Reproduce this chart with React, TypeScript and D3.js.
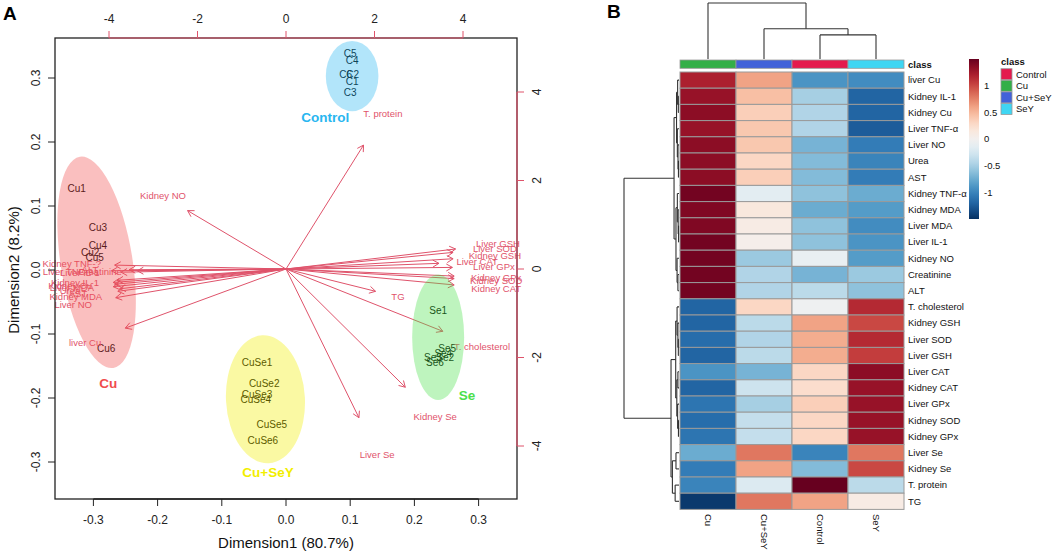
import * as d3 from 'd3';

// ---------- Panel A: biplot data ----------
const obsNames = [
  'C1', 'C2', 'C3', 'C4', 'C5', 'C6',
  'Cu1', 'Cu2', 'Cu3', 'Cu4', 'Cu5', 'Cu6',
  'CuSe1', 'CuSe2', 'CuSe3', 'CuSe4', 'CuSe5', 'CuSe6',
  'Se1', 'Se2', 'Se3', 'Se4', 'Se5', 'Se6',
];
const obsDim1 = [
  0.103, 0.104, 0.1, 0.103, 0.1, 0.093,
  -0.326, -0.305, -0.293, -0.293, -0.298, -0.28,
  -0.045, -0.034, -0.045, -0.047, -0.022, -0.036,
  0.237, 0.248, 0.229, 0.245, 0.251, 0.232,
];
const obsDim2 = [
  0.295, 0.306, 0.278, 0.327, 0.338, 0.306,
  0.128, 0.028, 0.067, 0.039, 0.02, -0.122,
  -0.144, -0.177, -0.194, -0.203, -0.241, -0.267,
  -0.064, -0.136, -0.136, -0.13, -0.122, -0.145,
];

// variable label positions (variable units, top/right axes)
const varNames = [
  'Kidney TNF-?', 'Liver TNF-?', 'Creatinine', 'Liver IL-1', 'ALT', 'Kidney IL-1',
  'Kidney Cu', 'Urea', 'Liver MDA', 'AST', 'Kidney MDA', 'Liver NO', 'liver Cu', 'Kidney NO',
  'Liver GSH', 'Liver SOD', 'Kidney GSH', 'Liver CAT', 'Liver GPx', 'Kidney GPx',
  'Kidney SOD', 'Kidney CAT', 'T. cholesterol', 'TG', 'Kidney Se', 'Liver Se', 'T. protein',
];
const varX = [
  -4.84, -4.93, -4.2, -4.66, -4.43, -4.77, -4.88, -4.88, -4.84, -4.7, -4.75, -4.81, -4.54, -2.78,
  4.79, 4.72, 4.72, 4.32, 4.7, 4.75, 4.75, 4.75, 4.43, 2.53, 3.37, 2.06, 2.19,
];
const varY = [
  0.11, -0.05, -0.05, -0.09, -0.02, -0.32, -0.38, -0.5, -0.43, -0.56, -0.63, -0.81, -1.67, 1.65,
  0.565, 0.47, 0.29, 0.16, 0.045, -0.2, -0.27, -0.45, -1.76, -0.63, -3.34, -4.2, 3.5,
];

const groupNames = ['Control', 'Cu', 'Cu+SeY', 'Se'];
const groupColors = ['#29B6F0', '#F04D4D', '#F2EE00', '#4CE04C'];
const groupCx = [0.103, -0.295, -0.032, 0.237];
const groupCy = [0.303, 0.012, -0.202, -0.105];
const groupRx = [0.041, 0.056, 0.0615, 0.0405];
const groupRy = [0.055, 0.167, 0.1, 0.098];
const groupAngle = [0, -9, -3, 0];
const groupLabelX = [0.061, -0.277, -0.028, 0.282];
const groupLabelY = [0.239, -0.177, -0.316, -0.195];

const obsTicks = [-0.3, -0.2, -0.1, 0, 0.1, 0.2, 0.3];
const varTicks = [-4, -2, 0, 2, 4];

// ---------- Panel B: heatmap data ----------
const rowLabels = [
  'liver Cu', 'Kidney IL-1', 'Kidney Cu', 'Liver TNF-α', 'Liver NO', 'Urea', 'AST',
  'Kidney TNF-α', 'Kidney MDA', 'Liver MDA', 'Liver IL-1', 'Kidney NO', 'Creatinine', 'ALT',
  'T. cholesterol', 'Kidney GSH', 'Liver SOD', 'Liver GSH', 'Liver CAT', 'Kidney CAT',
  'Liver GPx', 'Kidney SOD', 'Kidney GPx', 'Liver Se', 'Kidney Se', 'T. protein', 'TG',
];
const colLabels = ['Cu', 'Cu+SeY', 'Control', 'SeY'];
// values per row: Cu, Cu+SeY, Control, SeY
const heatValues = [
  [1.2, 0.6, -0.9, -0.95],
  [1.3, 0.45, -0.5, -1.2],
  [1.35, 0.35, -0.45, -1.2],
  [1.3, 0.4, -0.45, -1.25],
  [1.35, 0.4, -0.7, -1.05],
  [1.35, 0.3, -0.65, -1.0],
  [1.35, 0.35, -0.65, -1.05],
  [1.45, -0.15, -0.6, -0.75],
  [1.4, 0.15, -0.75, -0.85],
  [1.4, 0.1, -0.6, -0.95],
  [1.45, 0.05, -0.6, -0.9],
  [1.45, -0.55, -0.1, -0.85],
  [1.45, -0.45, -0.7, -0.55],
  [1.45, -0.45, -0.4, -0.6],
  [-1.2, 0.3, -0.05, 1.15],
  [-1.2, -0.4, 0.6, 1.0],
  [-1.15, -0.45, 0.55, 1.15],
  [-1.2, -0.4, 0.55, 1.05],
  [-0.9, -0.7, 0.3, 1.35],
  [-1.2, -0.3, 0.25, 1.3],
  [-1.1, -0.5, 0.35, 1.3],
  [-1.15, -0.35, 0.3, 1.3],
  [-1.1, -0.35, 0.3, 1.3],
  [-0.75, 0.8, -1.0, 0.8],
  [-1.05, 0.6, -0.65, 1.0],
  [-1.0, -0.2, 1.5, -0.4],
  [-1.45, 0.8, 0.6, 0.1],
];
const classNames = ['Control', 'Cu', 'Cu+SeY', 'SeY'];
const classColors = ['#E41A4D', '#33AF48', '#4262D9', '#3FD6F3'];
const legendTicks = [-1, -0.5, 0, 0.5, 1];

type Tree = number | [number, Tree, Tree];
const rowTree: Tree = [10,
  [0.9,
    [0.45, [0.25, 0, [0.12, 1, 2]], [0.3, 3, [0.18, 4, [0.1, 5, 6]]]],
    [0.55, [0.3, 7, [0.15, 8, [0.08, 9, 10]]], [0.35, 11, [0.2, 12, 13]]]],
  [1.45,
    [0.6, [0.35, 14, [0.2, 15, [0.12, 16, 17]]], [0.4, [0.2, 18, 19], [0.25, 20, [0.1, 21, 22]]]],
    [1.2, [0.55, 23, 24], [0.7, 25, 26]]]];
const colTree: Tree = [10, 0, [5.4, 1, [4.3, 2, 3]]];

const FONT = 'Liberation Sans, Arial, Helvetica, sans-serif';
const VARCOL = '#DF536B';

// walk a dendrogram, returning line segments in (pos, height) space
function walk(t: Tree, leafPos: (i: number) => number, segs: number[][]): { p: number; h: number } {
  if (typeof t === 'number') return { p: leafPos(t), h: 0 };
  const [h, a, b] = t;
  const l = walk(a, leafPos, segs);
  const r = walk(b, leafPos, segs);
  segs.push([l.p, l.h, l.p, h]);
  segs.push([r.p, r.h, r.p, h]);
  segs.push([l.p, h, r.p, h]);
  return { p: (l.p + r.p) / 2, h };
}

function arrowHead(x0: number, y0: number, x1: number, y1: number) {
  const ang = Math.atan2(y1 - y0, x1 - x0);
  const len = 7;
  const a1 = ang + Math.PI - Math.PI / 6;
  const a2 = ang + Math.PI + Math.PI / 6;
  return `M${x1 + len * Math.cos(a1)},${y1 + len * Math.sin(a1)}L${x1},${y1}L${x1 + len * Math.cos(a2)},${y1 + len * Math.sin(a2)}`;
}

function Biplot() {
  const box = { left: 55, right: 517, top: 38, bottom: 499 };
  const xObs = d3.scaleLinear().domain([-0.3, 0.3]).range([93.4, 478.6]);
  const yObs = d3.scaleLinear().domain([-0.3, 0.3]).range([462, 78]);
  const xVar = d3.scaleLinear().domain([-4, 4]).range([109, 463]);
  const yVar = d3.scaleLinear().domain([-4, 4]).range([446, 92]);
  const ox = xVar(0);
  const oy = yVar(0);

  return (
    <g fontFamily={FONT}>
      {/* observation labels */}
      {obsNames.map((n, i) => (
        <text key={n} x={xObs(obsDim1[i])} y={yObs(obsDim2[i])} dy="0.35em" textAnchor="middle" fontSize={10} fill="#000">
          {n}
        </text>
      ))}
      {/* variable arrows */}
      {varNames.map((n, i) => {
        const tx = xVar(varX[i] * 0.8);
        const ty = yVar(varY[i] * 0.8);
        return (
          <g key={n}>
            <line x1={ox} y1={oy} x2={tx} y2={ty} stroke={VARCOL} strokeWidth={1} />
            <path d={arrowHead(ox, oy, tx, ty)} fill="none" stroke={VARCOL} strokeWidth={1} />
            <text x={xVar(varX[i])} y={yVar(varY[i])} dy="0.35em" textAnchor="middle" fontSize={9.5} fill={VARCOL}>
              {n}
            </text>
          </g>
        );
      })}
      {/* group ellipses */}
      {groupNames.map((g, i) => {
        const cx = xObs(groupCx[i]);
        const cy = yObs(groupCy[i]);
        const rx = xObs(groupRx[i]) - xObs(0);
        const ry = yObs(0) - yObs(groupRy[i]);
        return (
          <ellipse key={g} cx={cx} cy={cy} rx={rx} ry={ry} fill={groupColors[i]} fillOpacity={0.36}
            transform={`rotate(${groupAngle[i]},${cx},${cy})`} />
        );
      })}
      {groupNames.map((g, i) => (
        <text key={g} x={xObs(groupLabelX[i])} y={yObs(groupLabelY[i])} dy="0.35em" textAnchor="middle"
          fontSize={13.5} fontWeight="bold" fill={groupColors[i]}>
          {g}
        </text>
      ))}
      {/* box */}
      <rect x={box.left} y={box.top} width={box.right - box.left} height={box.bottom - box.top} fill="none" stroke="#222" strokeWidth={1.3} />
      {/* bottom axis */}
      <line x1={xObs(-0.3)} x2={xObs(0.3)} y1={box.bottom} y2={box.bottom} stroke="#222" strokeWidth={1.3} />
      {obsTicks.map((t) => (
        <g key={`b${t}`}>
          <line x1={xObs(t)} x2={xObs(t)} y1={box.bottom} y2={box.bottom + 7} stroke="#222" />
          <text x={xObs(t)} y={box.bottom + 21} dy="0.35em" textAnchor="middle" fontSize={12} fill="#222">
            {t.toFixed(1)}
          </text>
        </g>
      ))}
      <text x={xObs(0)} y={543} dy="0.35em" textAnchor="middle" fontSize={15} fill="#111">Dimension1 (80.7%)</text>
      {/* left axis */}
      {obsTicks.map((t) => (
        <g key={`l${t}`}>
          <line x1={box.left} x2={box.left - 7} y1={yObs(t)} y2={yObs(t)} stroke="#222" />
          <text transform={`translate(${box.left - 19},${yObs(t)}) rotate(-90)`} dy="0.35em" textAnchor="middle" fontSize={12} fill="#222">
            {t.toFixed(1)}
          </text>
        </g>
      ))}
      <text transform={`translate(14,${yObs(0)}) rotate(-90)`} dy="0.35em" textAnchor="middle" fontSize={15} fill="#111">
        Dimension2 (8.2%)
      </text>
      {/* top axis (variables) */}
      <line x1={xVar(-4)} x2={xVar(4)} y1={box.top} y2={box.top} stroke={VARCOL} strokeWidth={1.2} />
      {varTicks.map((t) => (
        <g key={`t${t}`}>
          <line x1={xVar(t)} x2={xVar(t)} y1={box.top} y2={box.top - 7} stroke={VARCOL} />
          <text x={xVar(t)} y={19} dy="0.35em" textAnchor="middle" fontSize={12} fill="#222">{t}</text>
        </g>
      ))}
      {/* right axis (variables) */}
      <line x1={box.right} x2={box.right} y1={yVar(-4)} y2={yVar(4)} stroke={VARCOL} strokeWidth={1.2} />
      {varTicks.map((t) => (
        <g key={`r${t}`}>
          <line x1={box.right} x2={box.right + 7} y1={yVar(t)} y2={yVar(t)} stroke={VARCOL} />
          <text transform={`translate(${box.right + 20},${yVar(t)}) rotate(-90)`} dy="0.35em" textAnchor="middle" fontSize={12} fill="#222">
            {t}
          </text>
        </g>
      ))}
      <text x={3} y={20} fontSize={19} fontWeight="bold" fill="#000">A</text>
    </g>
  );
}

function Heatmap() {
  const xCell = d3.scaleBand().domain(colLabels).range([680, 904]);
  const yCell = d3.scaleBand().domain(rowLabels).range([72, 509.4]);
  const color = (v: number) => d3.interpolateRdBu((1.5 - v) / 3);
  const rowH = d3.scaleLinear().domain([0, 10]).range([679, 624]);
  const colH = d3.scaleLinear().domain([0, 10]).range([59, 3]);
  const legY = d3.scaleLinear().domain([-1.5, 1.5]).range([219, 59]);

  const rowSegs: number[][] = [];
  walk(rowTree, (i) => (yCell(rowLabels[i]) as number) + yCell.bandwidth() / 2, rowSegs);
  const colSegs: number[][] = [];
  walk(colTree, (i) => (xCell(colLabels[i]) as number) + xCell.bandwidth() / 2, colSegs);

  const gradStops = d3.range(0, 1.0001, 0.05);

  return (
    <g fontFamily={FONT}>
      <defs>
        <linearGradient id="legGrad" x1="0" y1="0" x2="0" y2="1">
          {gradStops.map((s) => (
            <stop key={s} offset={s} stopColor={d3.interpolateRdBu(s)} />
          ))}
        </linearGradient>
      </defs>
      {/* dendrograms */}
      {rowSegs.map((s, i) => (
        <line key={`rs${i}`} x1={rowH(s[1])} y1={s[0]} x2={rowH(s[3])} y2={s[2]} stroke="#333" strokeWidth={1.1} />
      ))}
      {colSegs.map((s, i) => (
        <line key={`cs${i}`} x1={s[0]} y1={colH(s[1])} x2={s[2]} y2={colH(s[3])} stroke="#333" strokeWidth={1.1} />
      ))}
      {/* annotation bar */}
      {colLabels.map((c) => (
        <rect key={`a${c}`} x={xCell(c)} y={60} width={xCell.bandwidth()} height={8.3}
          fill={classColors[classNames.indexOf(c)]} stroke="#999" strokeWidth={0.8} />
      ))}
      <text x={908} y={64.5} dy="0.35em" fontSize={9.5} fontWeight="bold" fill="#111">class</text>
      {/* cells */}
      {rowLabels.map((r, i) =>
        colLabels.map((c, j) => (
          <rect key={`${r}-${c}`} x={xCell(c)} y={yCell(r)} width={xCell.bandwidth()} height={yCell.bandwidth()}
            fill={color(heatValues[i][j])} stroke="#9a9a9a" strokeWidth={1} />
        ))
      )}
      {rowLabels.map((r) => (
        <text key={`rl${r}`} x={908} y={(yCell(r) as number) + yCell.bandwidth() / 2} dy="0.35em" fontSize={9.5} fill="#111">
          {r}
        </text>
      ))}
      {colLabels.map((c) => (
        <text key={`cl${c}`} transform={`translate(${(xCell(c) as number) + xCell.bandwidth() / 2},514) rotate(90)`}
          dy="0.35em" fontSize={9.5} fill="#111">
          {c}
        </text>
      ))}
      {/* colour legend */}
      <rect x={969} y={59} width={10} height={160} fill="url(#legGrad)" />
      {legendTicks.map((t) => (
        <text key={`lt${t}`} x={984} y={legY(t)} dy="0.35em" fontSize={9.5} fill="#111">{t}</text>
      ))}
      {/* class legend */}
      <text x={1001} y={62} dy="0.35em" fontSize={9.5} fontWeight="bold" fill="#111">class</text>
      {classNames.map((c, i) => (
        <g key={`cl2${c}`}>
          <rect x={1001} y={68.7 + i * 11.6} width={11} height={11} fill={classColors[i]} stroke="#999" strokeWidth={0.8} />
          <text x={1016} y={74.2 + i * 11.6} dy="0.35em" fontSize={9.5} fill="#111">{c}</text>
        </g>
      ))}
      <text x={607} y={18} fontSize={19} fontWeight="bold" fill="#000">B</text>
    </g>
  );
}

export default function App() {
  return (
    <svg width={1052} height={555} style={{ position: 'absolute', left: 0, top: 0, background: '#fff' }}>
      <rect width={1052} height={555} fill="#fff" />
      <Biplot />
      <Heatmap />
    </svg>
  );
}
